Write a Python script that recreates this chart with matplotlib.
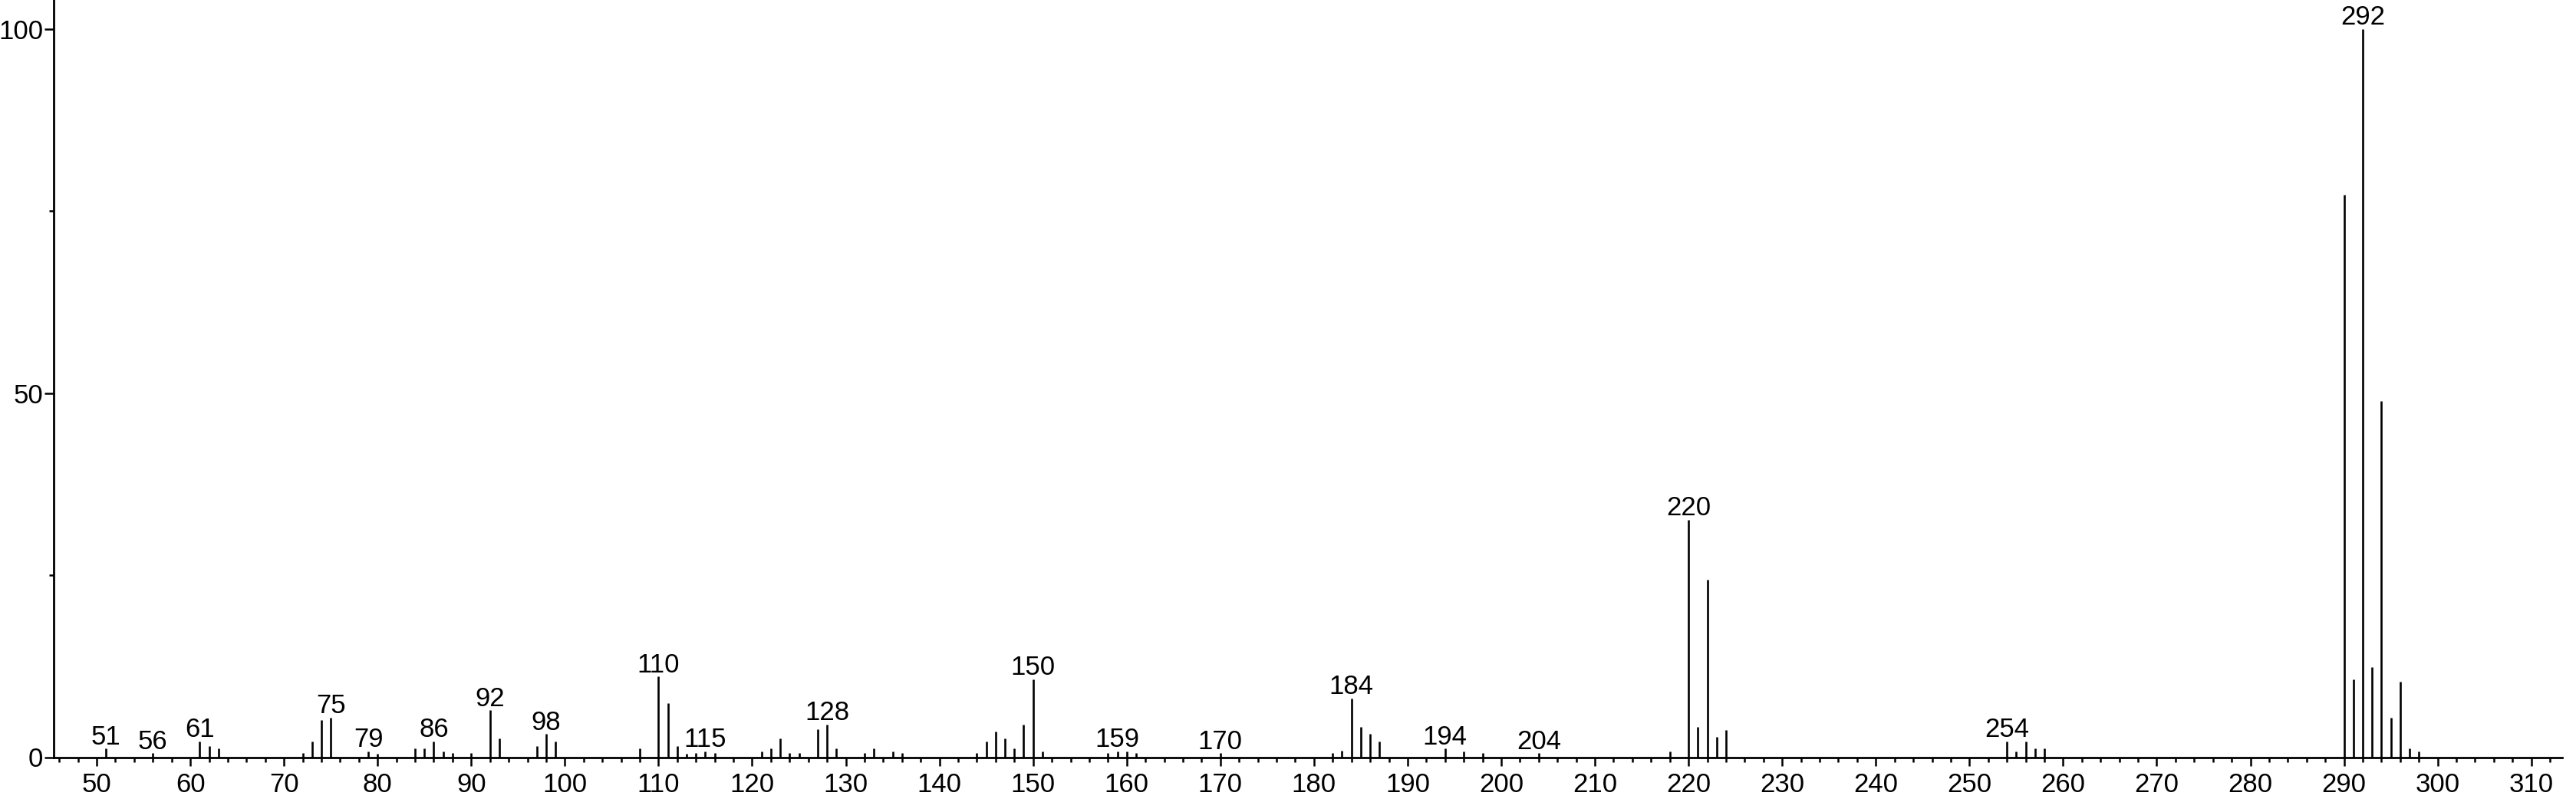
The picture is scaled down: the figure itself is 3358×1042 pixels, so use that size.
import matplotlib
matplotlib.use("Agg")
import matplotlib.pyplot as plt
import numpy as np
from matplotlib.ticker import MultipleLocator, FixedLocator

# m/z values and relative intensities
mz = [51, 56, 61, 62, 63, 72, 73, 74, 75, 79, 80, 84, 85, 86, 87, 88, 90,
      92, 93, 97, 98, 99, 108, 110, 111, 112, 113, 114, 115, 116, 121, 122,
      123, 124, 125, 127, 128, 129, 132, 133, 135, 136, 144, 145, 146, 147,
      148, 149, 150, 151, 158, 159, 160, 161, 170, 182, 183, 184, 185, 186,
      187, 194, 196, 198, 204, 218, 220, 221, 222, 223, 224, 254, 255, 256,
      257, 258, 290, 291, 292, 293, 294, 295, 296, 297, 298]
intensity = [1.16, 0.53, 2.18, 1.51, 1.16, 0.53, 2.18, 5.16, 5.44, 0.84, 0.5,
             1.16, 1.16, 2.18, 0.84, 0.53, 0.53, 6.43, 2.53, 1.51, 3.16, 2.18,
             1.16, 11.06, 7.45, 1.51, 0.5, 0.53, 0.84, 0.53, 0.84, 1.16, 2.53,
             0.53, 0.53, 3.86, 4.5, 1.16, 0.53, 1.16, 0.84, 0.53, 0.53, 2.18,
             3.51, 2.53, 1.16, 4.5, 10.71, 0.84, 0.53, 0.84, 0.84, 0.53, 0.53,
             0.53, 0.88, 8.08, 4.14, 3.16, 2.18, 1.16, 0.84, 0.53, 0.53, 0.84,
             32.6, 4.14, 24.4, 2.81, 3.79, 2.18, 0.84, 2.18, 1.16, 1.16, 77.3,
             10.7, 100.0, 12.4, 48.9, 5.4, 10.4, 1.16, 0.84]
labeled_mz = [51, 56, 61, 75, 79, 86, 92, 98, 110, 115, 128, 150, 159, 170,
              184, 194, 204, 220, 254, 292]
x_major_ticks = list(range(50, 311, 10))
y_major_ticks = [0, 50, 100]
y_minor_ticks = [25, 75]

plt.rcParams['font.family'] = ['Liberation Sans', 'DejaVu Sans']

W, H, DPI = 3358, 1042, 100
fig = plt.figure(figsize=(W / DPI, H / DPI), dpi=DPI)
ax = fig.add_axes([70 / W, (H - 987.5) / H, (3340 - 70) / W, 987.5 / H])

ax.vlines(mz, 0, intensity, color='black', linewidth=1.9)

lookup = dict(zip(mz, intensity))
for m in labeled_mz:
    ax.annotate(str(m), xy=(m, lookup[m]), xytext=(0, 4),
                textcoords='offset points', ha='center', va='baseline',
                fontsize=25, color='black')

ax.set_xlim(45.41, 313.3)
ax.set_ylim(0, 104.0)

for s in ['top', 'right']:
    ax.spines[s].set_visible(False)
for s in ['left', 'bottom']:
    ax.spines[s].set_linewidth(2.0)
    ax.spines[s].set_color('black')

ax.xaxis.set_major_locator(FixedLocator(x_major_ticks))
ax.xaxis.set_minor_locator(MultipleLocator(2))
ax.yaxis.set_major_locator(FixedLocator(y_major_ticks))
ax.yaxis.set_minor_locator(FixedLocator(y_minor_ticks))

ax.tick_params(axis='x', which='major', length=8, width=1.8, pad=6,
               labelsize=25, direction='out')
ax.tick_params(axis='x', which='minor', length=4, width=1.8, direction='out')
ax.tick_params(axis='y', which='major', length=9, width=1.8, pad=1,
               labelsize=25, direction='out')
ax.tick_params(axis='y', which='minor', length=4, width=1.8, direction='out')

fig.savefig('out.png', dpi=DPI)
